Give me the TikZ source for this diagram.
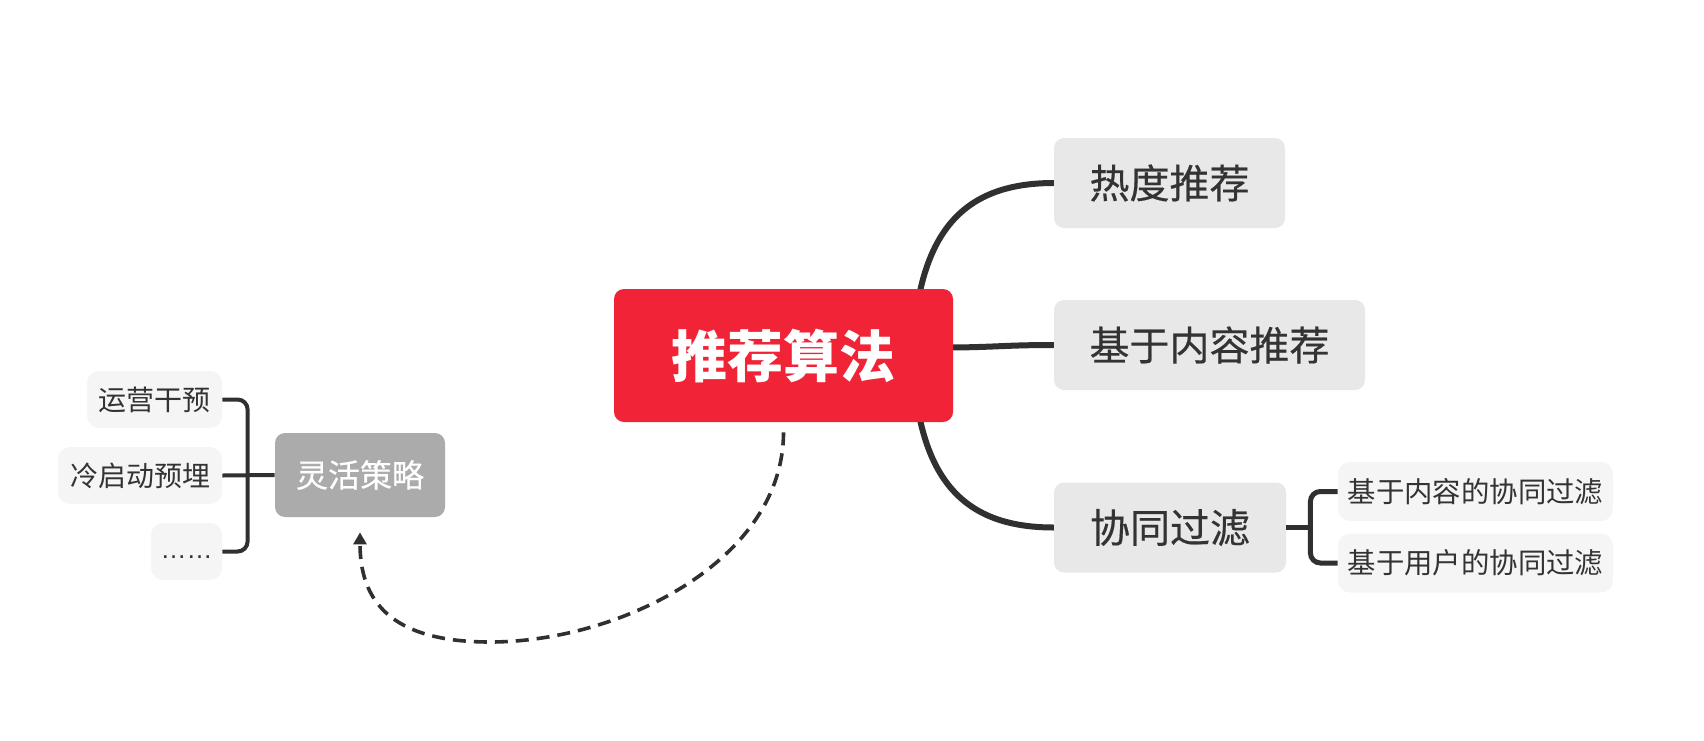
\documentclass[tikz,border=0pt]{standalone}
\usepackage{fontspec}
\newfontfamily\cjk{Noto Sans CJK SC}
\newfontfamily\cjkm[FakeBold=0.4]{Noto Sans CJK SC}
\newfontfamily\latf{Liberation Sans}
\usetikzlibrary{arrows.meta,calc,backgrounds}
\definecolor{redc}{RGB}{241,35,54}
\definecolor{lvf}{RGB}{232,232,232}
\definecolor{subf}{RGB}{246,245,246}
\definecolor{flexf}{RGB}{171,171,171}
\definecolor{txt}{RGB}{51,51,51}
\definecolor{lnc}{RGB}{48,48,48}
\begin{document}
\begin{tikzpicture}[x=0.5pt,y=-0.5pt,
  box/.style={rounded corners=5pt, inner sep=0pt, text=txt, align=center},
  central/.style={box, fill=redc, text=white, minimum width=169.5pt, minimum height=66.5pt,
    font=\cjk\bfseries\fontsize{28pt}{30pt}\selectfont},
  lvl/.style={box, fill=lvf, minimum height=45pt, font=\cjkm\fontsize{20pt}{22pt}\selectfont},
  subn/.style={box, fill=subf, rounded corners=6pt, minimum width=137.5pt, minimum height=29.5pt,
    font=\cjk\fontsize{14.2pt}{16pt}\selectfont},
  leaf/.style={box, fill=subf, rounded corners=6pt, minimum height=28.5pt,
    font=\cjk\fontsize{14pt}{16pt}\selectfont},
  flexs/.style={box, fill=flexf, text=white, minimum width=85pt, minimum height=42pt,
    font=\cjkm\fontsize{16pt}{18pt}\selectfont},
  branch/.style={line width=3pt, draw=lnc, line cap=round},
  rbrk/.style={line width=2.5pt, draw=lnc, rounded corners=5pt},
  lbrk/.style={line width=2pt, draw=lnc, rounded corners=5pt},
  dasharrow/.style={line width=1.8pt, draw=lnc, dash pattern=on 6.5pt off 4pt,
    -{Triangle[length=6pt,width=6.5pt]}},
]
\useasboundingbox (0,0) rectangle (1704,740);

\node[central] (c) at (783.5,355.5) {推荐算法};
\node[lvl, minimum width=115.5pt] (hot) at (1169.5,183) {热度推荐};
\node[lvl, minimum width=155.5pt] (content) at (1209.5,345) {基于内容推荐};
\node[lvl, minimum width=116pt] (cf) at (1170,527.5) {协同过滤};
\node[subn] (cf1) at (1475.5,491.5) {基于内容的协同过滤};
\node[subn] (cf2) at (1475.5,563) {基于用户的协同过滤};
\node[flexs] (flex) at (360,475) {灵活策略};
\node[leaf, minimum width=67.5pt] (op) at (154.5,399.5) {运营干预};
\node[leaf, minimum width=82pt] (cold) at (140,475.5) {冷启动预埋};
\node[leaf, minimum width=35.5pt, text height=10pt, text depth=3pt,
  font=\latf\fontsize{13pt}{15pt}\selectfont] (etc) at (186.5,551.5) {……};

\begin{scope}[on background layer]
  \draw[branch] ($(c.east)+(-41,0)$) .. controls +(5,-120) and +(-94,0) .. (hot.west);
  \draw[branch] ($(c.east)+(-41,0)$) .. controls +(5,120) and +(-94,0) .. (cf.west);
  \draw[branch] ($(c.east)+(-10,-8)$) .. controls +(50,0) and +(-50,0) .. (content.west);
\end{scope}

\coordinate (rb) at ($(cf.east)+(24,0)$);
\draw[rbrk] (cf.east) -- (rb);
\draw[rbrk] (cf1.west) -- (rb|-cf1.west) -- (rb|-cf2.west) -- (cf2.west);

\coordinate (lb) at ($(flex.west)+(-27,0)$);
\draw[lbrk] (op.east) -- (lb|-op.east) -- (lb|-etc.east) -- (etc.east);
\draw[lbrk] (cold.east) -- (flex.west);

\coordinate (dip) at (490,642);
\draw[dasharrow] ($(c.south)+(0,10)$) .. controls +(0,128) and +(130,0) .. (dip)
  .. controls +(-100,0) and +(0,68) .. ($(flex.south)+(0,15)$);
\end{tikzpicture}
\end{document}
